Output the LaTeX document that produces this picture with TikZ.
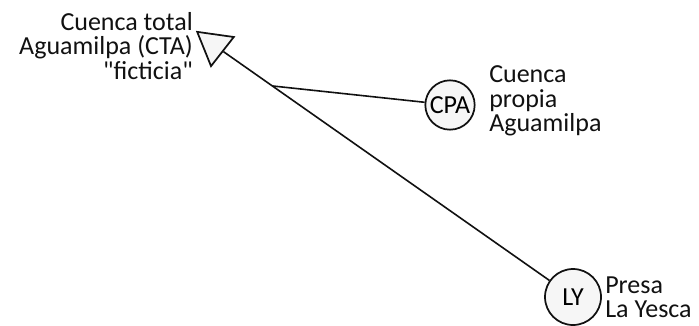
\documentclass[tikz,border=0pt]{standalone}
\usepackage{fontspec}
\setmainfont{Carlito}
\usetikzlibrary{shapes.geometric}
\definecolor{ink}{HTML}{111111}
\definecolor{dotfill}{HTML}{F6F6F6}
\tikzset{
  link/.style={
    draw=ink,
    line width=1.2pt
  },
  basin/.style={
    circle,
    draw=ink,
    fill=dotfill,
    line width=1.3pt,
    minimum size=37pt,
    inner sep=0pt,
    font=\fontsize{19.5}{18.5}\selectfont
  },
  dam/.style={
    regular polygon,
    regular polygon sides=3,
    shape border rotate=172,
    draw=ink,
    fill=dotfill,
    line width=1.3pt,
    minimum size=32pt,
    inner sep=0pt
  },
  caption/.style={
    font=\fontsize{19.5}{18.2}\selectfont,
    text=ink,
    inner sep=0pt
  }
}

\begin{document}
\begin{tikzpicture}[x=0.75pt,y=-0.75pt]
  \useasboundingbox (0,0) rectangle (699,325);

  \node[dam] (cta) at (214,45) {};
  \node[basin] (cpa) at (450,105) {CPA};
  \node[basin,minimum size=42pt] (ly) at (573,297) {LY};

  \node[caption,anchor=east,align=right] (cta-text) at (193,46) {
    Cuenca total\\
    Aguamilpa (CTA)\\
    \textquotedbl ficticia\textquotedbl
  };
  \node[caption,anchor=west,align=left] (cpa-text) at (489,101) {
    Cuenca\\
    propia\\
    Aguamilpa
  };
  \node[caption,anchor=west,align=left] (ly-text) at (605,297) {
    Presa\\
    La Yesca
  };

  \draw[link] (cta) -- coordinate[pos=0.15] (junction) (ly);
  \draw[link] (junction) -- (cpa);
\end{tikzpicture}
\end{document}
